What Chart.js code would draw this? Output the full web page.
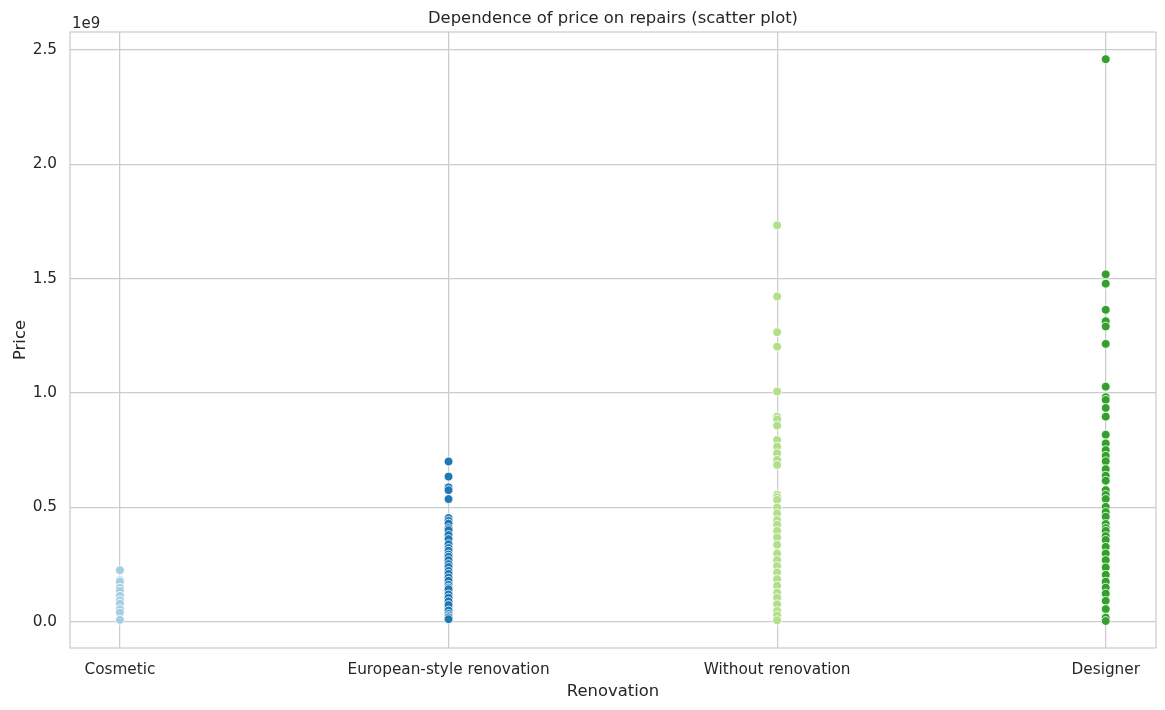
<!DOCTYPE html>
<html>
<head>
<meta charset="utf-8">
<script src="https://cdn.jsdelivr.net/npm/chart.js@4"></script>
<style>
  html, body { margin: 0; padding: 0; background: #fff; }
  #wrap { width: 1165px; height: 710px; }
</style>
</head>
<body>
<div id="wrap"><canvas id="chart"></canvas></div>
<script>
// ── DATA (prices in units of 1e9) ─────────────────────
const categories = ["Cosmetic", "European-style renovation", "Without renovation", "Designer"];
const colors     = ["#a6cee3", "#1f78b4", "#b2df8a", "#33a02c"];

const cosmeticPrices = [0.226, 0.182, 0.176, 0.150, 0.136, 0.114,
  0.095, 0.080, 0.056, 0.041, 0.009];

const europeanPrices = [0.701, 0.635, 0.588, 0.576, 0.537, 0.454, 0.442, 0.430,
  0.410, 0.401, 0.380, 0.362, 0.340, 0.323, 0.311, 0.295, 0.285, 0.270, 0.253,
  0.240, 0.223, 0.210, 0.194, 0.180, 0.162, 0.150, 0.143, 0.120, 0.106, 0.090,
  0.074, 0.050, 0.035, 0.026, 0.020, 0.012];

const withoutPrices = [1.733, 1.422, 1.266, 1.203, 1.007, 0.897, 0.885, 0.858,
  0.795, 0.766, 0.737, 0.708, 0.686, 0.556, 0.545, 0.533, 0.500, 0.474, 0.445,
  0.425, 0.398, 0.369, 0.337, 0.299, 0.270, 0.244, 0.216, 0.187, 0.158, 0.128,
  0.106, 0.077, 0.048, 0.029, 0.007];

const designerPrices = [2.459, 1.519, 1.478, 1.364, 1.314, 1.291, 1.215, 1.028,
  0.982, 0.970, 0.935, 0.897, 0.818, 0.780, 0.751, 0.726, 0.702, 0.668, 0.639,
  0.617, 0.576, 0.555, 0.537, 0.503, 0.480, 0.460, 0.428, 0.410, 0.398, 0.375,
  0.358, 0.328, 0.299, 0.270, 0.238, 0.206, 0.176, 0.150, 0.124, 0.092, 0.056,
  0.019, 0.004];

const yTicks = [0, 0.5, 1.0, 1.5, 2.0, 2.5];

const seriesList = [cosmeticPrices, europeanPrices, withoutPrices, designerPrices];

const chartTitle = "Dependence of price on repairs (scatter plot)";

// ── STYLE ─────────────────────────────────────────────
const FONT  = "'DejaVu Sans', sans-serif";
const TEXT  = "#262626";
const GRID  = "#cccccc";

// frame round the plot area, title centred over it, offset label "1e9"
const framePlugin = {
  id: "frame",
  beforeDatasetsDraw(chart) {
    const { ctx, chartArea: a } = chart;
    ctx.save();
    ctx.strokeStyle = GRID;
    ctx.lineWidth = 1.25;
    ctx.strokeRect(a.left, a.top, a.right - a.left, a.bottom - a.top);
    ctx.restore();
  },
  afterDraw(chart) {
    const { ctx, chartArea: a } = chart;
    ctx.save();
    ctx.fillStyle = TEXT;
    ctx.font = "15px " + FONT;
    ctx.textAlign = "left";
    ctx.textBaseline = "alphabetic";
    ctx.fillText("1e9", a.left + 2, a.top - 4);

    ctx.font = "16.4px " + FONT;
    ctx.textAlign = "center";
    ctx.textBaseline = "middle";
    ctx.fillText(chartTitle, (a.left + a.right) / 2, 18.5);
    ctx.restore();
  }
};

new Chart(document.getElementById("chart"), {
  type: "scatter",
  data: {
    datasets: seriesList.map((vals, i) => ({
      label: categories[i],
      data: vals.map(v => ({ x: i, y: v })),
      backgroundColor: colors[i],
      borderColor: "#ffffff",
      borderWidth: 0.8,
      pointRadius: 4.4,
      pointHoverRadius: 4.4
    }))
  },
  options: {
    responsive: true,
    maintainAspectRatio: false,
    animation: false,
    layout: { padding: { left: 0, right: 9, top: 32, bottom: 0 } },
    plugins: {
      legend: { display: false },
      tooltip: { enabled: false },
      title: { display: false }
    },
    scales: {
      x: {
        type: "linear",
        min: -0.152,
        max: 3.153,
        afterBuildTicks: s => { s.ticks = categories.map((_, i) => ({ value: i })); },
        afterFit: s => { s.height = 62; },
        ticks: {
          color: TEXT,
          font: { family: FONT, size: 15.3 },
          padding: 13,
          maxRotation: 0,
          autoSkip: false,
          callback: v => categories[v] ?? ""
        },
        grid: { color: GRID, lineWidth: 1.25, drawTicks: false },
        border: { display: false },
        title: {
          display: true,
          text: "Renovation",
          color: TEXT,
          font: { family: FONT, size: 16.4 },
          padding: { top: 0, bottom: 8 }
        }
      },
      y: {
        min: -0.114,
        max: 2.578,
        afterBuildTicks: s => { s.ticks = yTicks.map(v => ({ value: v })); },
        afterFit: s => { s.width = 70; },
        ticks: {
          color: TEXT,
          font: { family: FONT, size: 15.3 },
          padding: 13,
          callback: v => v.toFixed(1)
        },
        grid: { color: GRID, lineWidth: 1.25, drawTicks: false },
        border: { display: false },
        title: {
          display: true,
          text: "Price",
          color: TEXT,
          font: { family: FONT, size: 16.4 },
          padding: { top: 10.5, bottom: 0 }
        }
      }
    }
  },
  plugins: [framePlugin]
});
</script>
</body>
</html>
